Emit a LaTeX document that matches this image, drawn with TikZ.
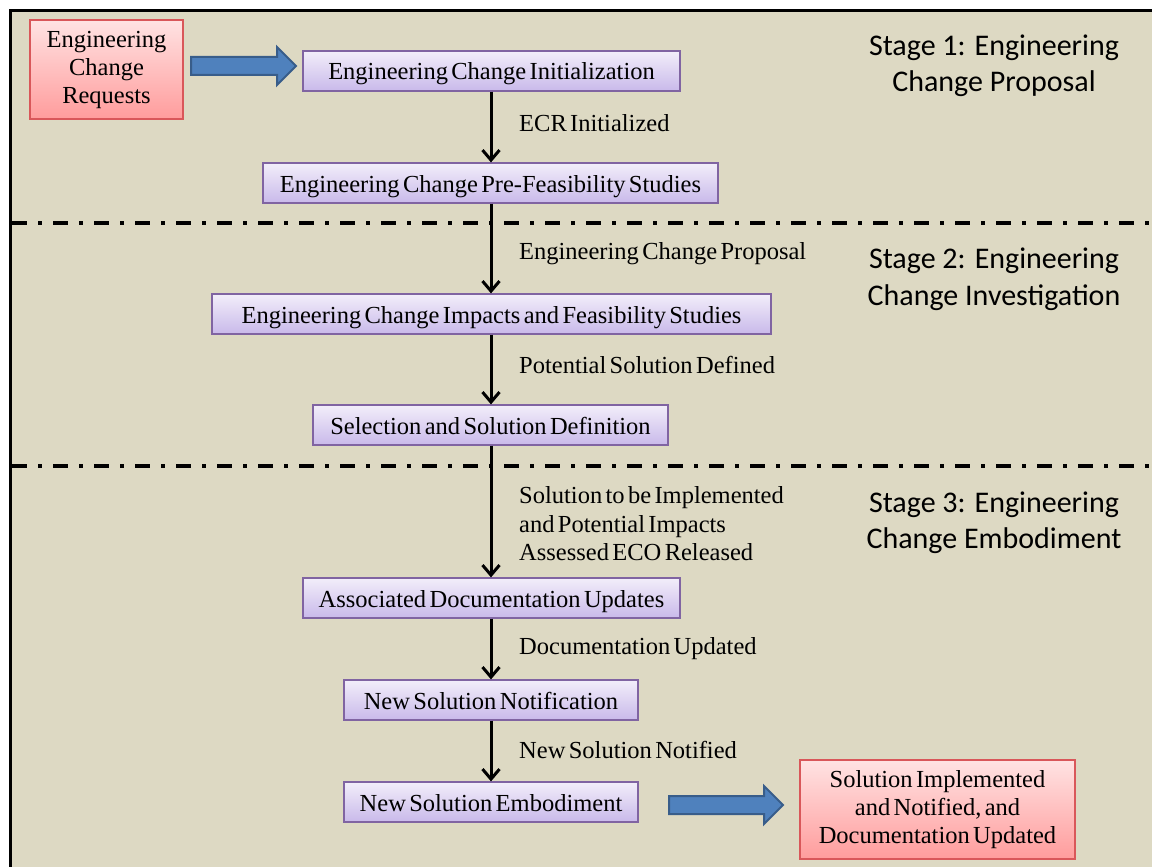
\documentclass[tikz,border=0pt]{standalone}
\usepackage{fontspec}
\setmainfont{Liberation Serif}[WordSpace=0.55]
\newfontfamily\stagefont{Carlito}
\usetikzlibrary{calc,arrows.meta}
\definecolor{panelbg}{HTML}{DDD9C3}
\definecolor{stepedge}{HTML}{8064A2}
\definecolor{steptop}{HTML}{F2EEFA}
\definecolor{stepbot}{HTML}{C9B9EA}
\definecolor{termedge}{HTML}{D9575A}
\definecolor{termtop}{HTML}{FFE3E3}
\definecolor{termbot}{HTML}{FF9C9C}
\definecolor{blockfill}{HTML}{4F81BD}
\definecolor{blockedge}{HTML}{385D8A}
\tikzset{
  stepbox/.style={draw=stepedge, line width=1.2pt, top color=steptop, bottom color=stepbot,
    minimum height=40pt, inner sep=0pt, text height=22pt, text depth=4pt,
    font=\fontsize{24.5}{28}\selectfont},
  termbox/.style={draw=termedge, line width=1.2pt, top color=termtop, bottom color=termbot,
    inner sep=0pt, align=center, font=\fontsize{24.5}{28}\selectfont},
  flowlabel/.style={anchor=west, align=left, inner sep=0pt, font=\fontsize{24.5}{28.5}\selectfont},
  stagelabel/.style={align=center, inner sep=0pt, font=\stagefont\fontsize{30}{36.5}\selectfont},
  flowarrow/.style={line width=3pt, -{Straight Barb[length=10pt,width=17pt,line width=3pt]}},
  blockarrow/.style={fill=blockfill, draw=blockedge, line width=2pt, line join=miter},
  stageline/.style={line width=4pt, dash pattern=on 15pt off 11pt on 4pt off 11pt},
}
\newcommand\wideblockarrow[2]{%
  \draw[blockarrow] ($(#1)+(0,-9)$) -- ($(#2)+(-19,-9)$) -- ($(#2)+(-19,-19)$) -- (#2)
    -- ($(#2)+(-19,19)$) -- ($(#2)+(-19,9)$) -- ($(#1)+(0,9)$) -- cycle;}
\begin{document}
\begin{tikzpicture}[x=1pt,y=-1pt]
\useasboundingbox (0,0) rectangle (1152,867);
% panel
\fill[panelbg] (10,10) rectangle (1152,867);
\draw[line width=3.5pt] (10.5,867) -- (10.5,10.5) -- (1152,10.5);
% stage separators
\draw[stageline] (12,223) -- (1152,223);
\draw[stageline] (12,466) -- (1152,466);

% process steps
\node[stepbox, minimum width=377pt] (init) at (491.5,71) {Engineering Change Initialization};
\node[stepbox, minimum width=455pt] (prefeas) at (490.5,183) {Engineering Change Pre-Feasibility Studies};
\node[stepbox, minimum width=559pt] (impacts) at (491.5,314) {Engineering Change Impacts and Feasibility Studies};
\node[stepbox, minimum width=355pt] (select) at (490.5,425) {Selection and Solution Definition};
\node[stepbox, minimum width=377pt] (docs) at (491.5,598) {Associated Documentation Updates};
\node[stepbox, minimum width=294pt] (notify) at (491,700) {New Solution Notification};
\node[stepbox, minimum width=294pt] (embody) at (491,802) {New Solution Embodiment};

% start and end
\node[termbox, minimum width=153pt, minimum height=99pt] (ecr) at (106.5,69.5)
  {\raisebox{-3pt}{\parbox{150pt}{\centering Engineering\\Change\\Requests}}};
\node[termbox, minimum width=275pt, minimum height=99pt] (done) at (937.5,809.5)
  {\raisebox{-3pt}{\parbox{270pt}{\centering Solution Implemented\\and Notified, and\\Documentation Updated}}};

% block arrows
\coordinate (inA) at (191,66);
\coordinate (inB) at (296,66);
\coordinate (outA) at (669,805);
\coordinate (outB) at (783,805);
\wideblockarrow{inA}{inB}
\wideblockarrow{outA}{outB}

% flow arrows
\draw[flowarrow] (init.south -| 491,0) -- (prefeas.north -| 491,0);
\draw[flowarrow] (prefeas.south -| 491,0) -- (impacts.north -| 491,0);
\draw[flowarrow] (impacts.south -| 491,0) -- (select.north -| 491,0);
\draw[flowarrow] (select.south -| 491,0) -- (docs.north -| 491,0);
\draw[flowarrow] (docs.south -| 491,0) -- (notify.north -| 491,0);
\draw[flowarrow] (notify.south -| 491,0) -- (embody.north -| 491,0);

% transition labels
\node[flowlabel] (l1) at (519,123) {ECR Initialized};
\node[flowlabel] (l2) at (519,254) {Engineering Change Proposal};
\node[flowlabel] (l3) at (519,365) {Potential Solution Defined};
\node[flowlabel] (l4) at (519,524) {Solution to be Implemented\\and Potential Impacts\\Assessed ECO Released};
\node[flowlabel] (l5) at (519,649) {Documentation Updated};
\node[flowlabel] (l6) at (519,750) {New Solution Notified};

% stage titles
\node[stagelabel] (s1) at (994,66) {Stage 1: Engineering\\Change Proposal};
\node[stagelabel] (s2) at (994,279.5) {Stage 2: Engineering\\Change Investigation};
\node[stagelabel] (s3) at (994,523) {Stage 3: Engineering\\Change Embodiment};
\end{tikzpicture}
\end{document}
